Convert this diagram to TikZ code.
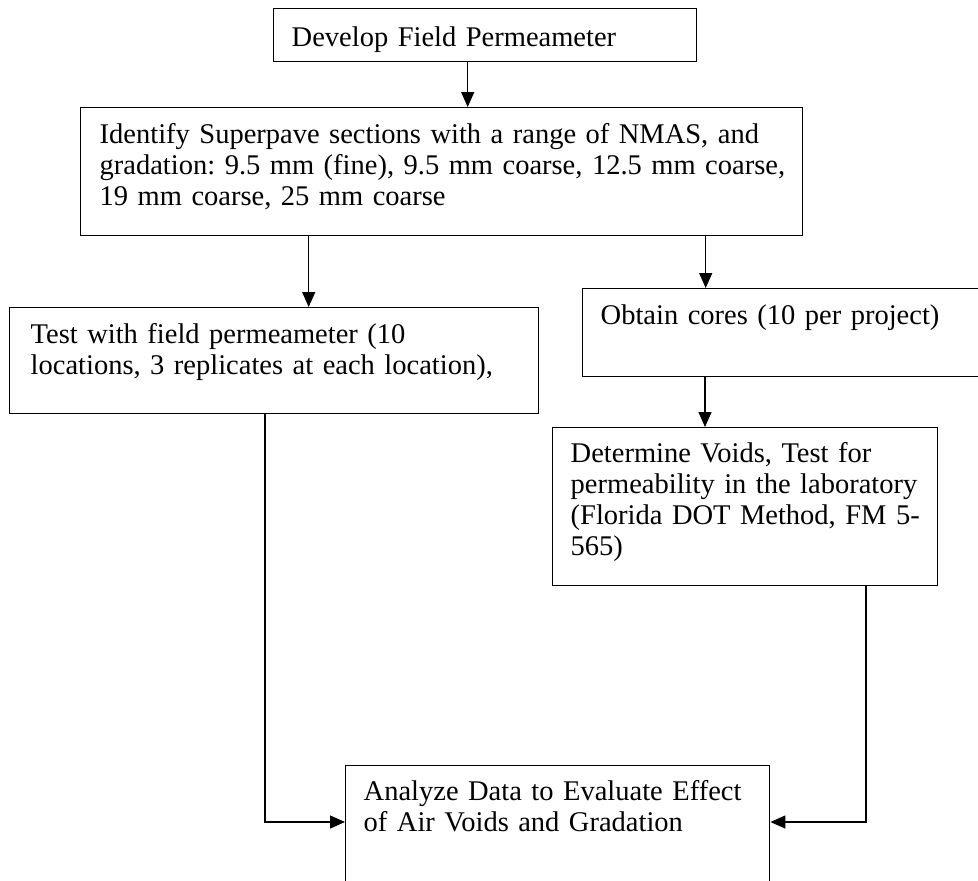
\documentclass[tikz,border=0pt]{standalone}
\usepackage{fontspec}
\setmainfont{Liberation Serif}
\usetikzlibrary{arrows.meta,positioning}

\begin{document}
\begin{tikzpicture}[x=1pt,y=-1pt]
	\tikzstyle{Stage}	= [draw, line width=1.4pt, anchor=north west, align=left, inner ysep=0pt, inner xsep=18pt, font=\fontsize{28.5}{31}\selectfont\frenchspacing]
	\tikzstyle{Flow}	= [line width=1.3pt, -{Triangle[length=15pt,width=13pt]}]

	\useasboundingbox (0,0) rectangle (978,881);
	\clip (0,0) rectangle (978,881);

	\node (b1) at (273,8) [Stage][text width=387pt, text height=38pt, text depth=15pt] {Develop Field Permeameter};
	\node (b2) at (80,107) [Stage][inner xsep=19pt, text width=684pt, text height=36pt, text depth=92pt] {Identify Superpave sections with a range of NMAS, and\\\mbox{gradation: 9.5 mm (fine), 9.5 mm coarse, 12.5 mm coarse,}\\19 mm coarse, 25 mm coarse};
	\node (b3) at (9,307) [Stage][inner xsep=21pt, text width=487pt, text height=36pt, text depth=70pt] {Test with field permeameter (10\\\mbox{locations, 3 replicates at each location),}};
	\node (b4) at (582,288) [Stage][text width=382pt, text height=36pt, text depth=52pt] {Obtain cores (10 per project)};
	\node (b5) at (552,427) [Stage][text width=349pt, text height=35pt, text depth=123pt] {Determine Voids, Test for\\\mbox{permeability in the laboratory}\\\mbox{(Florida DOT Method, FM 5-}\\565)};
	\node (b6) at (345,765) [Stage][text width=388pt, text height=35pt, text depth=100pt] {\mbox{Analyze Data to Evaluate Effect}\\of Air Voids and Gradation};

	\draw ([xshift=-17.5pt]b1.south) to ([xshift=-17.5pt]b1.south |- b2.north) [Flow];
	\draw ([xshift=-133pt]b2.south) to ([xshift=-133pt]b2.south |- b3.north) [Flow];
	\draw ([xshift=264pt]b2.south) to ([xshift=264pt]b2.south |- b4.north) [Flow];
	\draw ([xshift=123pt]b4.south west) to ([xshift=123pt]b4.south west |- b5.north) [Flow];
	\draw ([xshift=256pt]b3.south west) |- ([yshift=-57pt]b6.north west) [Flow];
	\draw ([xshift=314pt]b5.south west) |- ([yshift=-57pt]b6.north east) [Flow];
\end{tikzpicture}
\end{document}
